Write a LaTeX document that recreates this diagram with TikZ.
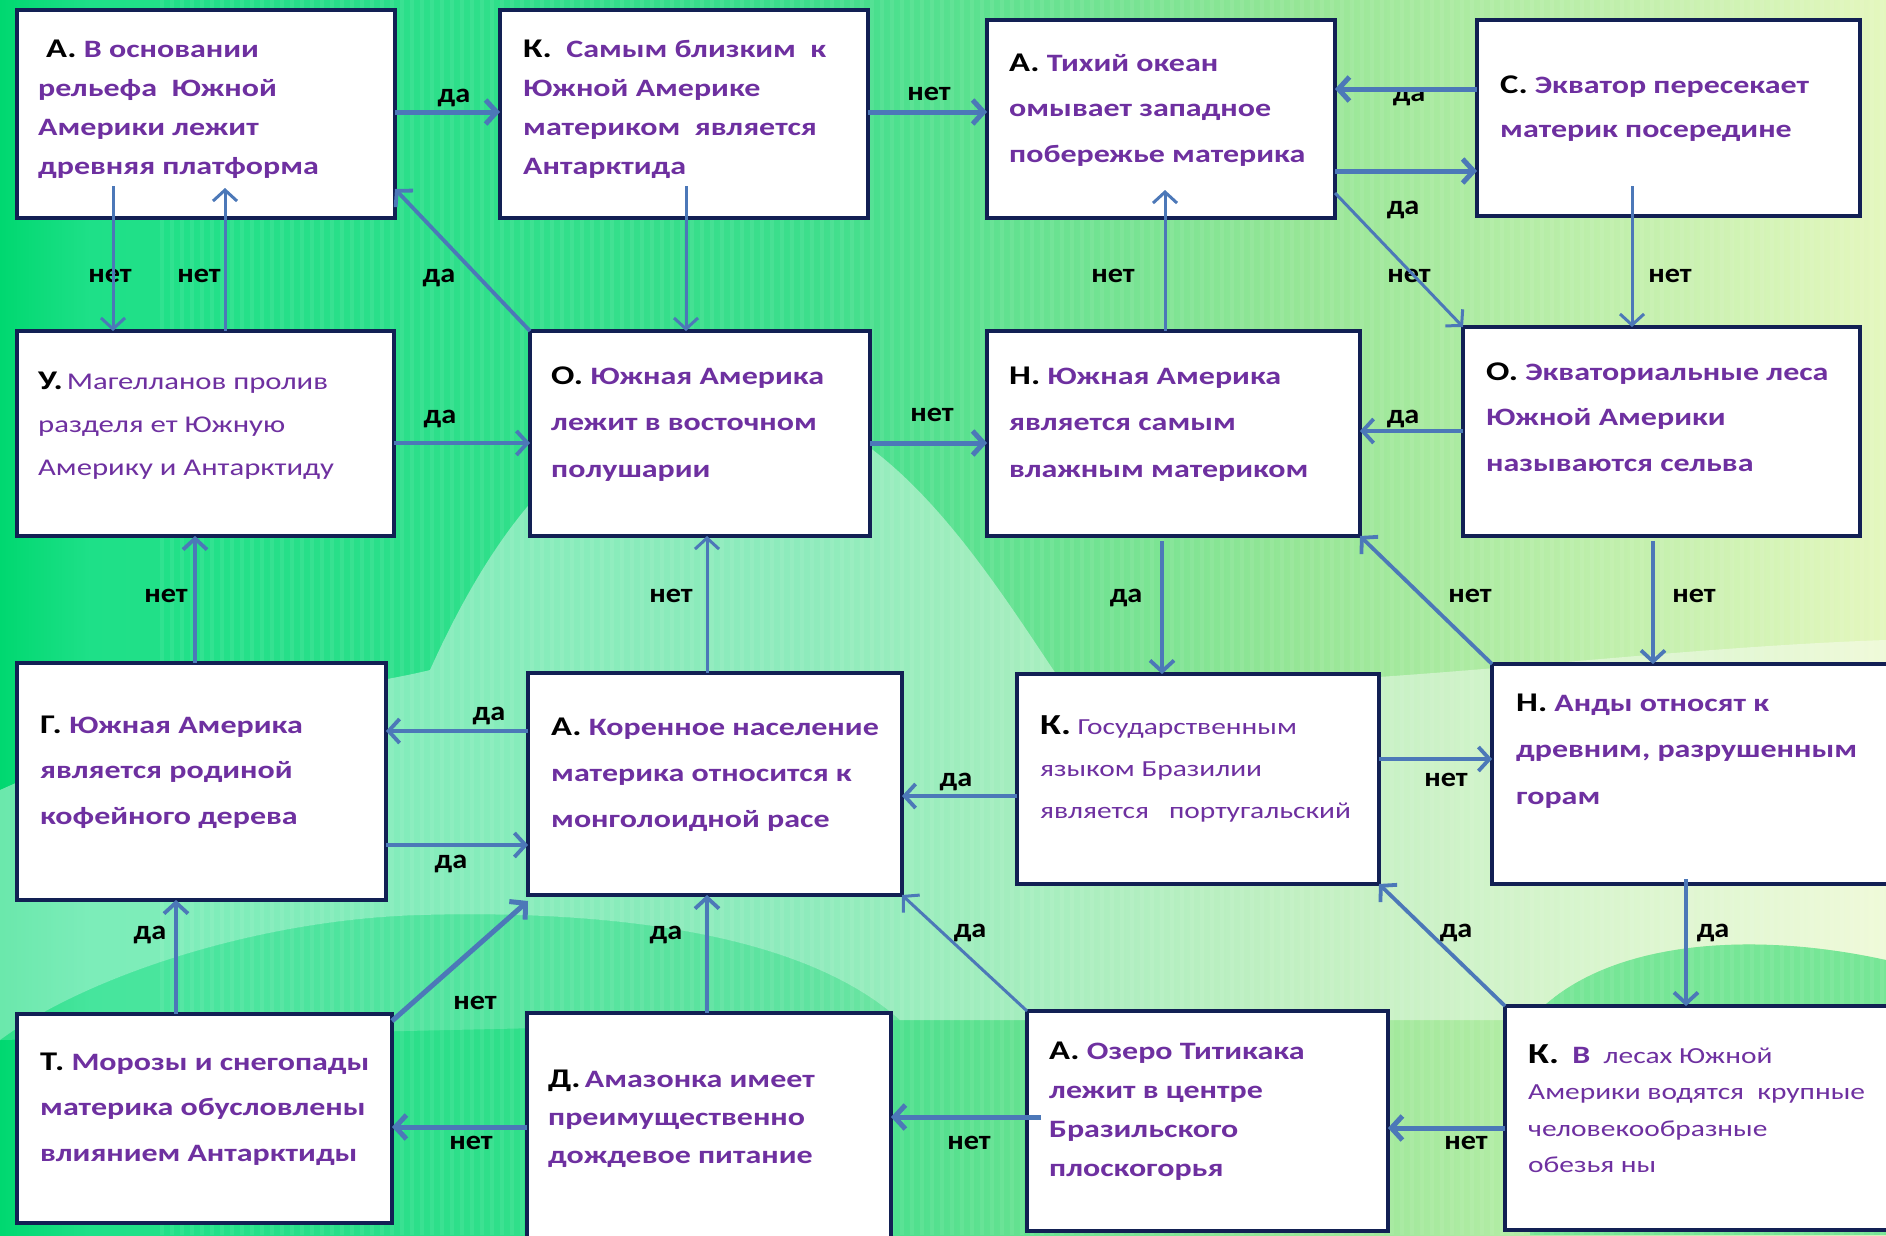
\documentclass[tikz,border=0pt]{standalone}
\usepackage{fontspec}
\setmainfont{Carlito}
\newfontfamily\bxf[FakeStretch=1.28]{Carlito}
\newfontfamily\lbf[FakeStretch=1.12]{Carlito}
\usetikzlibrary{arrows.meta,calc,fit}
\definecolor{boxline}{RGB}{18,32,84}
\definecolor{arrc}{RGB}{76,120,184}
\definecolor{tpur}{RGB}{110,48,160}
\definecolor{g0}{RGB}{0,216,112}
\definecolor{g1}{RGB}{30,224,136}
\definecolor{g2}{RGB}{60,222,140}
\definecolor{g3}{RGB}{150,230,150}
\definecolor{g4}{RGB}{228,247,190}
\definecolor{gw}{RGB}{118,230,150}
\newcommand\pf[1]{{\color{black}\bfseries\fontsize{27}{30}\selectfont #1}}
\newcommand\pfb[1]{{\color{black}\bfseries\fontsize{29}{30}\selectfont #1}}
\newcommand\blines[6]{\foreach \l [count=\i] in {#6} {\node[#5] (#1-\i) at ({#2}, {#3+(\i-1)*#4}) {\l};}}
\tikzset{
 box/.style={draw=boxline, line width=4pt, fill=white, inner sep=0pt, outer sep=0pt},
 tb/.style={anchor=base west, inner sep=0pt, text=tpur, font=\bxf\bfseries\fontsize{25}{30}\selectfont},
 tr/.style={anchor=base west, inner sep=0pt, text=tpur, font=\bxf\fontsize{24}{30}\selectfont},
 trs/.style={anchor=base west, inner sep=0pt, text=tpur, font=\bxf\fontsize{23}{28}\selectfont},
 lbl/.style={anchor=base, inner sep=0pt, text=black, font=\lbf\bfseries\fontsize{27}{30}\selectfont},
 arr/.style={draw=arrc, line width=3.8pt, -{Straight Barb[length=11pt,width=24pt]}},
 thk/.style={line width=5pt},
 thn/.style={line width=3pt},
}
\begin{document}
\begin{tikzpicture}[x=1pt,y=-1pt]
\useasboundingbox (0,0) rectangle (1886,1235);
\begin{scope}
\clip (0,0) rectangle (1886,1235);
% background
\fill[g0] (0,0) rectangle (1886,1235);
\shade[left color=g0, right color=g1] (0,0) rectangle (90,1235);
\shade[left color=g1, right color=g2] (90,0) rectangle (800,1235);
\shade[left color=g2, right color=g3] (800,0) rectangle (1300,1235);
\shade[left color=g3, right color=g4] (1300,0) rectangle (1886,1235);
\fill[white, opacity=0.42] (0,790) .. controls (200,700) and (350,690) .. (430,670) .. controls (520,470) and (620,400) .. (740,400) .. controls (880,400) and (980,560) .. (1060,680) .. controls (1300,700) and (1600,650) .. (1886,640) -- (1886,960) .. controls (1750,930) and (1600,940) .. (1530,1020) -- (900,1020) .. controls (800,930) and (600,910) .. (420,915) .. controls (250,920) and (80,980) .. (0,1040) -- cycle;
\fill[white, opacity=0.18] (0,1040) .. controls (80,980) and (250,920) .. (420,915) .. controls (600,910) and (800,930) .. (900,1020) -- cycle;
\fill[gw] (1530,1235) -- (1530,1020) .. controls (1600,940) and (1750,930) .. (1886,960) -- (1886,1235) -- cycle;
\foreach \x in {160,170,...,1880} {\fill[white,opacity=0.07] (\x,0) rectangle (\x+4,1235);}
% boxes
\node[box, fit={(17,10) (395,218)}] (A1) {};
\node[box, fit={(500,10) (868,218)}] (K1) {};
\node[box, fit={(987,20) (1335,218)}] (A2) {};
\node[box, fit={(1477,20) (1860,216)}] (C) {};
\node[box, fit={(17,331) (394,536)}] (U) {};
\node[box, fit={(530,331) (870,536)}] (O1) {};
\node[box, fit={(987,331) (1360,536)}] (H1) {};
\node[box, fit={(1463,327) (1860,536)}] (O2) {};
\node[box, fit={(17,663) (386,900)}] (G) {};
\node[box, fit={(528,673) (902,895)}] (A3) {};
\node[box, fit={(1017,674) (1379,884)}] (K2) {};
\node[box, fit={(1492,664) (1900,884)}] (H2) {};
\node[box, fit={(17,1014) (392,1223)}] (T) {};
\node[box, fit={(527,1013) (891,1250)}] (D) {};
\node[box, fit={(1027,1011) (1388,1231)}] (A4) {};
\node[box, fit={(1505,1006) (1900,1230)}] (K3) {};
% texts
\blines{A1t}{38}{57}{39}{tb}{{\kern8pt\pf{А.}\ В основании},{рельефа\ \ Южной},{Америки лежит},{древняя платформа}}
\blines{K1t}{523}{57}{39}{tb}{{\pf{К.}\ \ Самым близким\ \ к},{Южной Америке},{материком\ \ является},{Антарктида}}
\blines{A2t}{1009}{71}{45.5}{tb}{{\pf{А.}\ Тихий океан},{омывает западное},{побережье материка}}
\blines{Ct}{1500}{93}{44}{tb}{{\pf{С.} Экватор пересекает},{материк посередине}}
\blines{Ut}{38}{389}{43}{tr}{{\pf{У.}\,Магелланов пролив},{разделя ет Южную},{Америку и Антарктиду}}
\blines{O1t}{551}{384}{46.5}{tb}{{\pf{О.} Южная Америка},{лежит в восточном},{полушарии}}
\blines{H1t}{1009}{384}{46.5}{tb}{{\pf{Н.} Южная Америка},{является самым},{влажным материком}}
\blines{O2t}{1486}{380}{45.5}{tb}{{\pf{О.} Экваториальные леса},{Южной Америки},{называются сельва}}
\blines{Gt}{40}{733}{45.5}{tb}{{\pf{Г.} Южная Америка},{является родиной},{кофейного дерева}}
\blines{A3t}{551}{735}{46}{tb}{{\pf{А.} Коренное население},{материка относится к},{монголоидной расе}}
\blines{K2t}{1040}{734}{42}{trs}{{\pfb{К.} Государственным},{языком Бразилии},{является\ \ \ португальский}}
\blines{H2t}{1516}{711}{46.5}{tb}{{\pf{Н.} Анды относят к},{древним, разрушенным},{горам}}
\blines{Tt}{40}{1070}{45.5}{tb}{{\pf{Т.} Морозы и снегопады},{материка обусловлены},{влиянием Антарктиды}}
\blines{Dt}{548}{1087}{38}{tb}{{\pf{Д.}\,Амазонка имеет},{преимущественно},{дождевое питание}}
\blines{A4t}{1049}{1059}{39}{tb}{{\pf{А.} Озеро Титикака},{лежит в центре},{Бразильского},{плоскогорья}}
\blines{K3t}{1528}{1063}{36.5}{trs}{{\pfb{К.}\ \ {\bfseries\fontsize{25}{28}\selectfont В}\ \ лесах Южной},{Америки водятся\ \ крупные},{человекообразные},{обезья ны}}
% labels
\node[lbl] (l1) at (454,102) {да};
\node[lbl] (l2) at (929,100) {нет};
\node[lbl] (l3) at (1409,101) {да};
\node[lbl] (l4) at (1403,214) {да};
\node[lbl] (l5) at (1409,282) {нет};
\node[lbl] (l6) at (1670,282) {нет};
\node[lbl] (l7) at (110,282) {нет};
\node[lbl] (l8) at (199,282) {нет};
\node[lbl] (l9) at (439,282) {да};
\node[lbl] (l10) at (440,423) {да};
\node[lbl] (l11) at (932,421) {нет};
\node[lbl] (l12) at (1113,282) {нет};
\node[lbl] (l13) at (1403,423) {да};
\node[lbl] (l14) at (1126,602) {да};
\node[lbl] (l15) at (1470,602) {нет};
\node[lbl] (l16) at (1694,602) {нет};
\node[lbl] (l17) at (1446,786) {нет};
\node[lbl] (l18) at (956,786) {да};
\node[lbl] (l19) at (489,720) {да};
\node[lbl] (l20) at (451,868) {да};
\node[lbl] (l21) at (166,602) {нет};
\node[lbl] (l22) at (671,602) {нет};
\node[lbl] (l23) at (1713,937) {да};
\node[lbl] (l24) at (1456,937) {да};
\node[lbl] (l25) at (970,937) {да};
\node[lbl] (l26) at (666,939) {да};
\node[lbl] (l27) at (150,939) {да};
\node[lbl] (l28) at (475,1009) {нет};
\node[lbl] (l29) at (471,1149) {нет};
\node[lbl] (l30) at (969,1149) {нет};
\node[lbl] (l31) at (1466,1149) {нет};
% connectors
\draw[arr,thk] (A1.east |- 0,112) -- (K1.west |- 0,112);
\draw[arr,thk] (K1.east |- 0,112) -- (A2.west |- 0,112);
\draw[arr,thk] (C.west |- 0,89) -- (A2.east |- 0,89);
\draw[arr,thk] (A2.east |- 0,171) -- (C.west |- 0,171);
\draw[arr,thn] ($(A2.south east)+(0,-25)$) -- (O2.north west);
\draw[arr,thn] ($(C.south -| 1632,0)+(0,-30)$) -- (O2.north -| 1632,0);
\draw[arr,thn] ($(A1.south -| 113,0)+(0,-32)$) -- (U.north -| 113,0);
\draw[arr,thn] (U.north -| 225,0) -- ($(A1.south -| 225,0)+(0,-30)$);
\draw[arr] (O1.north west) -- ($(A1.south east)+(0,-29)$);
\draw[arr,thn] ($(K1.south -| 686,0)+(0,-32)$) -- (O1.north -| 686,0);
\draw[arr] (U.east |- 0,443) -- (O1.west |- 0,443);
\draw[arr,thk] (O1.east |- 0,443) -- (H1.west |- 0,443);
\draw[arr,thn] (H1.north -| 1165,0) -- ($(A2.south -| 1165,0)+(0,-28)$);
\draw[arr] (O2.west |- 0,431) -- (H1.east |- 0,431);
\draw[arr] ($(H1.south -| 1162,0)+(0,5)$) -- (K2.north -| 1162,0);
\draw[arr] (H2.north west) -- (H1.south east);
\draw[arr] ($(O2.south -| 1653,0)+(0,5)$) -- (H2.north -| 1653,0);
\draw[arr] (K2.east |- 0,759) -- (H2.west |- 0,759);
\draw[arr] (K2.west |- 0,796) -- (A3.east |- 0,796);
\draw[arr] (A3.west |- 0,731) -- (G.east |- 0,731);
\draw[arr] (G.east |- 0,845) -- (A3.west |- 0,845);
\draw[arr] (G.north -| 195,0) -- (U.south -| 195,0);
\draw[arr,thn] (A3.north -| 707,0) -- (O1.south -| 707,0);
\draw[arr] ($(H2.south -| 1686,0)+(0,-5)$) -- (K3.north -| 1686,0);
\draw[arr] (K3.north west) -- (K2.south east);
\draw[arr,thn] (A4.north west) -- (A3.south east);
\draw[arr] (D.north -| 707,0) -- (A3.south -| 707,0);
\draw[arr] (T.north -| 176,0) -- (G.south -| 176,0);
\draw[arr,thk] ($(T.north east)+(0,7)$) -- ($(A3.south west)+(0,6)$);
\draw[arr,thk] (D.west |- 0,1127) -- (T.east |- 0,1127);
\draw[arr,thk] ($(A4.west |- 0,1117)+(14,0)$) -- (D.east |- 0,1117);
\draw[arr,thk] (K3.west |- 0,1128) -- (A4.east |- 0,1128);
\end{scope}
\end{tikzpicture}
\end{document}
